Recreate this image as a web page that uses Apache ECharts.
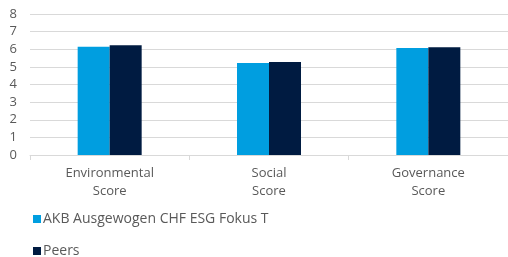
<!DOCTYPE html>
<html>
<head>
<meta charset="utf-8">
<script src="https://cdn.jsdelivr.net/npm/echarts@6/dist/echarts.min.js"></script>
<style>
  html, body { margin: 0; padding: 0; background: #fff; }
  #chart { width: 508px; height: 257px; }
</style>
</head>
<body>
<div id="chart"></div>
<script>
var categories = ['Environmental\nScore', 'Social\nScore', 'Governance\nScore'];
var fundName = 'AKB Ausgewogen CHF ESG Fokus T';
var peersName = 'Peers';
var fundValues = [6.14, 5.22, 6.07];
var peersValues = [6.22, 5.27, 6.12];

var chart = echarts.init(document.getElementById('chart'));
var font = '"Open Sans", "Noto Sans", sans-serif';

function legendAt(name, top) {
    return {
        left: 28,
        top: top,
        itemWidth: 8,
        itemHeight: 8,
        icon: 'rect',
        textStyle: { fontFamily: font, fontSize: 14, color: '#595959', padding: [0, 0, 0, -3] },
        data: [name]
    };
}

chart.setOption({
    animation: false,
    color: ['#009ee0', '#001b41'],
    textStyle: { fontFamily: font },
    grid: { left: 30, right: -4, top: 14, bottom: 102, containLabel: false },
    legend: [legendAt(fundName, 207), legendAt(peersName, 239)],
    xAxis: {
        type: 'category',
        data: categories,
        axisLine: { lineStyle: { color: '#d9d9d9' } },
        axisTick: { show: true, length: 5, lineStyle: { color: '#d9d9d9' } },
        axisLabel: { color: '#595959', fontSize: 13, lineHeight: 18, margin: 9, fontFamily: font }
    },
    yAxis: {
        type: 'value',
        min: 0,
        max: 8,
        interval: 1,
        axisLine: { show: false },
        axisTick: { show: false },
        splitLine: { lineStyle: { color: '#d9d9d9', width: 1 } },
        axisLabel: { color: '#595959', fontSize: 13, margin: 13, fontFamily: font }
    },
    series: [
        { name: fundName, type: 'bar', barWidth: 32, barGap: '0%', data: fundValues },
        { name: peersName, type: 'bar', barWidth: 32, barGap: '0%', data: peersValues }
    ]
});
</script>
</body>
</html>
